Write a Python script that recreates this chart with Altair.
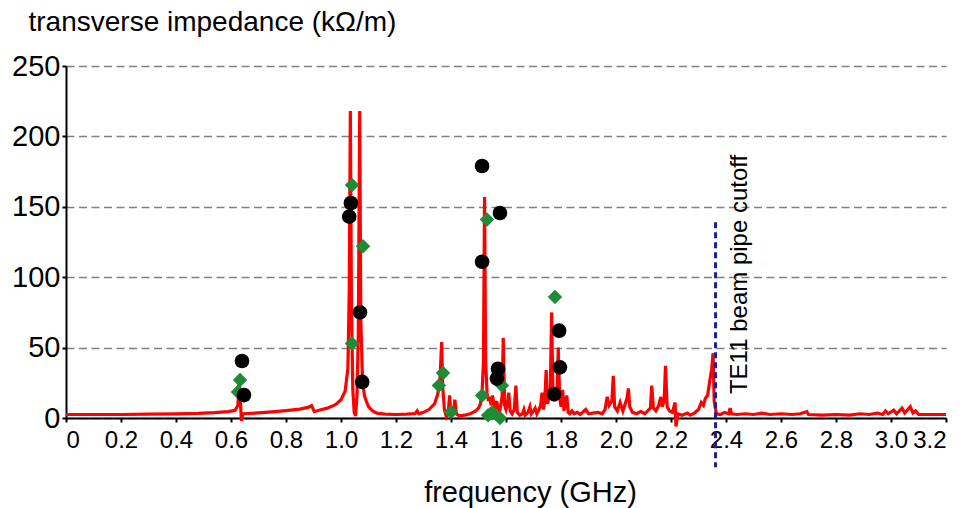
import altair as alt
import pandas as pd

# ---- spectrum (GHz, kOhm/m) ----
freq = [0.000, 0.100, 0.200, 0.300, 0.400, 0.480, 0.540, 0.590, 0.615, 0.625, 0.630, 0.634, 0.638, 0.643,
        0.660, 0.700, 0.750, 0.800, 0.850, 0.880, 0.893, 0.903, 0.920, 0.950, 0.980, 1.000, 1.015, 1.025,
        1.030, 1.034, 1.038, 1.043, 1.048, 1.053, 1.058, 1.063, 1.068, 1.072, 1.078, 1.085, 1.092, 1.100,
        1.115, 1.130, 1.160, 1.200, 1.240, 1.270, 1.277, 1.283, 1.300, 1.320, 1.340, 1.352, 1.360, 1.366,
        1.370, 1.376, 1.383, 1.390, 1.395, 1.399, 1.405, 1.410, 1.414, 1.419, 1.430, 1.450, 1.470, 1.490,
        1.500, 1.507, 1.513, 1.518, 1.522, 1.526, 1.531, 1.536, 1.541, 1.546, 1.551, 1.556, 1.561, 1.566,
        1.571, 1.577, 1.582, 1.586, 1.590, 1.595, 1.600, 1.605, 1.610, 1.615, 1.622, 1.630, 1.636, 1.641,
        1.650, 1.660, 1.665, 1.670, 1.680, 1.687, 1.692, 1.700, 1.706, 1.712, 1.720, 1.726, 1.731, 1.736,
        1.741, 1.746, 1.751, 1.756, 1.761, 1.766, 1.771, 1.776, 1.781, 1.786, 1.790, 1.795, 1.800, 1.806,
        1.811, 1.816, 1.821, 1.826, 1.832, 1.840, 1.848, 1.860, 1.870, 1.890, 1.900, 1.915, 1.935, 1.950,
        1.960, 1.968, 1.975, 1.985, 1.990, 1.995, 2.005, 2.015, 2.025, 2.040, 2.045, 2.050, 2.060, 2.075,
        2.090, 2.105, 2.115, 2.125, 2.130, 2.136, 2.145, 2.155, 2.163, 2.168, 2.175, 2.180, 2.186, 2.195,
        2.205, 2.215, 2.218, 2.225, 2.240, 2.260, 2.270, 2.285, 2.300, 2.310, 2.318, 2.325, 2.333, 2.340,
        2.348, 2.353, 2.357, 2.365, 2.380, 2.395, 2.410, 2.415, 2.420, 2.440, 2.470, 2.500, 2.530, 2.560,
        2.600, 2.640, 2.670, 2.694, 2.700, 2.750, 2.800, 2.850, 2.887, 2.920, 2.950, 2.970, 2.980, 2.990,
        3.010, 3.020, 3.040, 3.050, 3.070, 3.080, 3.090, 3.100, 3.150, 3.200]
impedance = [2.5, 2.5, 2.5, 2.7, 3.0, 3.3, 3.8, 4.5, 5.5, 9, 27, 12, -2, 3,
             3.2, 3.6, 4.3, 5.2, 6.3, 7.5, 8.8, 4.5, 5.5, 7.0, 9.5, 13, 19, 35,
             90, 218, 80, 20, 4, 1.5, 15, 60, 218, 70, 28, 16, 12, 8,
             5, 3.5, 2.8, 2.5, 2.8, 3.2, 5.0, 3.0, 4.0, 6.0, 10, 17, 28, 54,
             22, 6, 1.0, 4, 16, 4, 3, 6, 13, 3, 1.5, 2.0, 3.0, 5.0,
             7.0, 10, 18, 40, 157, 40, 18, 12, 15, 9, 16, 10, 6, 12,
             7, 5, 10, 16, 57, 9, 6, 10, 18, 5, 3, 6, 23, 4,
             2, 3, 6, 2, 4, 8, 3, 5, 7, 3, 6, 9, 18, 6,
             12, 34, 10, 14, 20, 75, 12, 15, 12, 22, 50, 15, 8, 20,
             5, 11, 16, 4, 3, 5, 3, 4, 2.5, 6, 3, 3.5, 4, 3,
             6, 15, 9, 12, 30, 8, 5, 11, 5, 14, 21, 8, 4, 3,
             4.5, 3, 5, 7, 23, 7, 5, 9, 15, 8, 12, 37, 8, 5,
             4, 11, -6, 3, 2, 3.5, 2, 3.5, 6, 11, 9, 14, 16, 25,
             35, 46, 12, 3, 2.5, 4, 3, 7, 3, 2.5, 3, 2.5, 3.5, 2.5,
             3, 2.5, 3, 4.5, 2.5, 2, 2.5, 2, 3, 2.5, 3.5, 2.5, 5, 3,
             5.5, 3, 7, 3.5, 8, 3.5, 5, 2.5, 2.5, 2.5]

# ---- black circles ----
circle_freq = [0.640, 0.647, 1.036, 1.030, 1.069, 1.077, 1.513, 1.578, 1.513, 1.571, 1.567, 1.793, 1.796, 1.775]
circle_imp = [40.5, 16.3, 152.7, 143, 75, 25.6, 179, 145.6, 111, 35, 28, 62, 36, 17]

# ---- green diamonds ----
diamond_freq = [0.633, 0.625, 1.040, 1.080, 1.040, 1.371, 1.356, 1.400, 1.531, 1.513, 1.585, 1.535, 1.550, 1.578, 1.778]
diamond_imp = [27, 18.5, 165.5, 122, 53, 32, 23, 4.3, 141, 16, 23, 2, 4, 0, 86]

# ---- cutoff marker and its label ----
cutoff_freq = [2.362]
cutoff_top = [139]
cutoff_bottom = [-35]
label_text = ["TE11 beam pipe cutoff"]
label_freq = [2.450]
label_imp = [17.0]

x_ticks = [0, 0.2, 0.4, 0.6, 0.8, 1.0, 1.2, 1.4, 1.6, 1.8, 2.0, 2.2, 2.4, 2.6, 2.8, 3.0, 3.2]
y_ticks = [0, 50, 100, 150, 200, 250]

FONT = "Liberation Sans"

spec_df = pd.DataFrame({"f": freq, "z": impedance})
circ_df = pd.DataFrame({"f": circle_freq, "z": circle_imp})
diam_df = pd.DataFrame({"f": diamond_freq, "z": diamond_imp})
cut_df = pd.DataFrame({"f": cutoff_freq, "z": cutoff_top, "z2": cutoff_bottom})
lab_df = pd.DataFrame({"f": label_freq, "z": label_imp, "t": label_text})

x_axis = alt.Axis(values=x_ticks, grid=False, labelOverlap=False,
                  labelExpr="datum.value == 0 ? '0' : format(datum.value, '.1f')",
                  labelFont=FONT, labelFontSize=24, labelColor="black", labelPadding=6,
                  domainColor="black", domainWidth=2, tickColor="black", tickWidth=2, tickSize=4,
                  title="frequency (GHz)", titleFont=FONT, titleFontSize=29, titleFontWeight="normal",
                  titleColor="black", titleX=464, titleY=74, titleAlign="center", titleBaseline="middle")
y_axis = alt.Axis(values=y_ticks, grid=True, gridColor="#808080", gridDash=[8, 4.5], gridWidth=1.6,
                  labelFont=FONT, labelFontSize=29, labelColor="black", labelPadding=2,
                  domainColor="black", domainWidth=2, tickColor="black", tickWidth=2, tickSize=4,
                  title="transverse impedance (kΩ/m)", titleFont=FONT, titleFontSize=28,
                  titleFontWeight="normal", titleColor="black", titleAngle=0, titleAlign="left",
                  titleBaseline="middle", titleX=-38, titleY=-44)

xs = alt.Scale(domain=[0, 3.2], nice=False, zero=False)
ys = alt.Scale(domain=[0, 250], nice=False)

x_enc = alt.X("f:Q", scale=xs, axis=x_axis)
y_enc = alt.Y("z:Q", scale=ys, axis=y_axis)

line = alt.Chart(spec_df).mark_line(color="#ff0000", strokeWidth=3.2, clip=False).encode(
    x=x_enc, y=y_enc, order="f:Q")
diamonds = alt.Chart(diam_df).mark_point(shape="diamond", filled=True, color="#1e8c36",
                                         size=210, opacity=1).encode(x=x_enc, y=y_enc)
circles = alt.Chart(circ_df).mark_point(shape="circle", filled=True, color="black",
                                        size=215, opacity=1).encode(x=x_enc, y=y_enc)
cutoff = alt.Chart(cut_df).mark_rule(color="#1f1f8f", strokeWidth=3, strokeDash=[6, 4]).encode(
    x=x_enc, y=y_enc, y2="z2:Q")
label = alt.Chart(lab_df).mark_text(angle=270, align="left", baseline="middle", font=FONT,
                                    fontSize=24, color="black").encode(x=x_enc, y=y_enc, text="t:N")

chart = alt.layer(line, diamonds, circles, cutoff, label).properties(
    width=880, height=352,
    autosize=alt.AutoSizeParams(type="none"),
    padding={"left": 66, "top": 66, "right": 34, "bottom": 90},
    background="white",
).configure_view(stroke=None)

chart.save("out.html", embed_options={"renderer": "svg", "actions": False})
